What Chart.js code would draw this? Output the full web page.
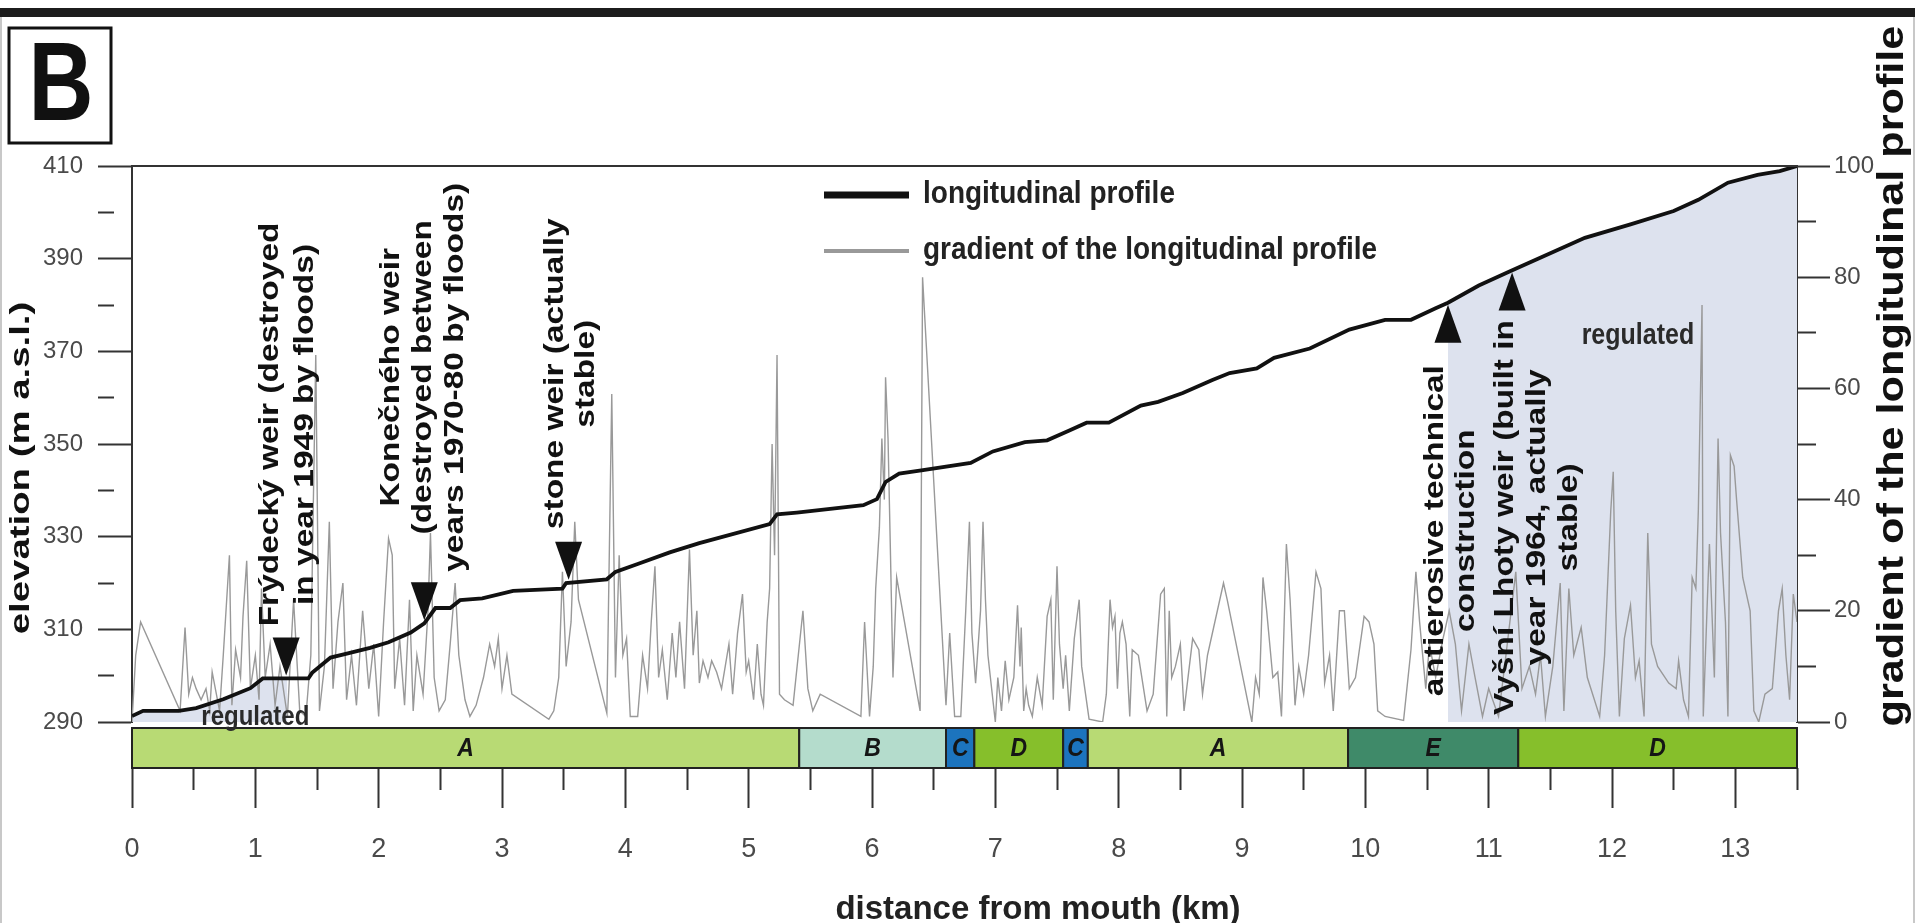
<!DOCTYPE html>
<html>
<head>
<meta charset="utf-8">
<script src="https://cdn.jsdelivr.net/npm/chart.js@4/dist/chart.umd.min.js"></script>
<style>
  html, body { margin: 0; padding: 0; background: #fff; }
  canvas { display: block; }
</style>
</head>
<body>
<canvas id="profileChart" width="1915" height="923"></canvas>
<script>
// longitudinal profile (km from mouth, elevation m a.s.l.)
const profileKm = [0, 0.09, 0.38, 0.52, 0.74, 0.96, 1.06, 1.26, 1.43, 1.46,
  1.61, 1.75, 1.93, 2.08, 2.26, 2.37, 2.46, 2.58, 2.66, 2.84,
  3.09, 3.49, 3.52, 3.85, 3.92, 4.10, 4.36, 4.60, 5.17, 5.23,
  5.39, 5.93, 6.04, 6.11, 6.22, 6.40, 6.80, 6.98, 7.24, 7.42,
  7.60, 7.74, 7.92, 8.18, 8.32, 8.52, 8.76, 8.90, 9.12, 9.26,
  9.55, 9.87, 10.16, 10.37, 10.57, 10.67, 10.92, 11.16, 11.40, 11.78,
  12.15, 12.50, 12.70, 12.94, 13.18, 13.36, 13.50];
const profileElev = [291.3, 292.4, 292.4, 293.0, 294.9, 297.3, 299.4, 299.4, 299.4, 300.6,
  303.9, 304.8, 306.0, 307.2, 309.3, 311.3, 314.6, 314.6, 316.3, 316.7,
  318.3, 318.8, 320.0, 320.8, 322.4, 324.1, 326.6, 328.6, 332.7, 334.8,
  335.2, 336.8, 338.1, 341.8, 343.6, 344.3, 345.9, 348.4, 350.4, 350.8,
  352.9, 354.6, 354.6, 358.3, 359.1, 361.0, 363.8, 365.3, 366.3, 368.6,
  370.6, 374.7, 376.8, 376.8, 379.3, 380.5, 384.2, 387.1, 390.0, 394.5,
  397.4, 400.3, 402.7, 406.4, 408.1, 408.9, 410.0];

// gradient of the profile (km, value on the right axis)
const gradientKm = [
  0.00,0.03,0.07,0.39,0.43,0.46,0.49,0.52,0.56,0.60,0.63,0.65,0.71,0.74,0.79,0.81,0.84,0.88,0.90,0.93,0.96,
  1.00,1.03,1.05,1.08,1.12,1.16,1.20,1.26,1.31,1.36,1.41,1.45,1.49,1.52,1.56,1.60,1.63,1.67,1.71,1.74,1.78,1.82,1.87,1.92,1.96,
  2.00,2.04,2.08,2.11,2.13,2.17,2.21,2.25,2.28,2.31,2.36,2.40,2.42,2.45,2.49,2.54,2.58,2.62,2.65,2.70,2.74,2.79,2.85,2.90,2.94,2.97,
  3.00,3.04,3.08,3.38,3.42,3.46,3.49,3.52,3.56,3.59,3.62,3.85,3.89,3.92,3.95,3.98,
  4.01,4.04,4.10,4.14,4.18,4.21,4.24,4.27,4.30,4.34,4.38,4.41,4.44,4.48,4.52,4.55,4.58,4.60,4.63,4.67,4.70,4.74,4.78,4.81,4.84,4.87,4.91,4.95,4.98,
  5.00,5.04,5.07,5.10,5.12,5.15,5.17,5.19,5.21,5.23,5.25,5.29,5.36,5.44,5.48,5.52,5.58,5.91,5.94,5.98,
  6.01,6.03,6.06,6.08,6.10,6.11,6.13,6.15,6.17,6.20,6.39,6.41,6.60,6.63,6.67,6.72,6.76,6.79,6.81,6.84,6.88,6.90,6.92,6.94,6.97,
  7.00,7.02,7.05,7.08,7.11,7.15,7.18,7.20,7.21,7.23,7.25,7.27,7.30,7.34,7.38,7.42,7.45,7.47,7.50,7.52,7.55,7.57,7.60,7.64,7.68,7.70,7.76,7.87,7.90,7.93,7.95,7.97,7.99,
  8.01,8.03,8.06,8.09,8.11,8.16,8.23,8.28,8.34,8.37,8.39,8.41,8.43,8.46,8.50,8.53,8.60,8.65,8.68,8.72,8.77,8.85,8.88,
  9.08,9.11,9.14,9.17,9.20,9.25,9.29,9.32,9.36,9.39,9.43,9.46,9.50,9.54,9.60,9.64,9.67,9.71,9.74,9.79,9.83,9.87,9.92,9.99,
  10.03,10.07,10.10,10.16,10.31,10.37,10.41,10.44,10.49,10.52,10.57,10.63,10.68,10.73,10.78,10.84,10.89,10.95,
  11.00,11.08,11.14,11.22,11.27,11.33,11.38,11.42,11.46,11.52,11.58,11.61,11.65,11.69,11.75,11.80,11.90,11.94,11.99,
  12.01,12.03,12.06,12.10,12.15,12.19,12.22,12.26,12.29,12.32,12.37,12.46,12.52,12.54,12.58,12.62,12.65,12.68,12.70,12.73,12.74,12.77,12.79,12.83,12.86,12.88,12.92,12.94,12.96,12.99,
  13.01,13.06,13.12,13.15,13.19,13.24,13.30,13.35,13.38,13.41,13.44,13.47,13.50
];
const gradientVal = [
  0,12,18,2,17,5,8,6,4,6,2,9,2,12,30,3,13,8,19,29,6,
  12,4,24,8,14,3,10,1,22,2,1,12,66,2,10,36,6,18,25,4,12,3,20,6,14,
  1,18,33,30,6,15,3,22,2,12,5,20,34,8,2,4,14,25,12,4,1,3,8,14,10,15,
  6,12,5,0.5,2,8,27,10,18,36,22,1.6,59,8,30,12,
  15,1,1,12,6,18,28,8,13,4,16,8,18,6,31,12,20,7,11,8,11,9,6,10,14,5,16,23,9,
  11,4,14,5,3,18,24,50,30,66,5,4,3,20,6,2,5,1,18,1,
  10,24,35,51,40,62,51,30,8,26,2,80,3,16,1,1,20,36,16,7,20,36,22,12,6,
  0,8,2,11,4,8,21,10,17,2,6,3,1,8,3,19,22,4,28,14,6,12,2,15,22,10,0.5,0,5,22,17,19,6,
  16,18,14,1,13,12,2,5,23,24,1,20,8,10,14,2,15,13,5,12,17,25,22,
  0,8,5,26,20,8,9,1,32,22,3,10,5,12,27,24,7,12,2,20,20,6,8,19,
  18,14,2,1,0.3,13,27,18,6,14,8,15,20,14,2,14,8,1,
  6,1,12,27,6,10,5,12,1,10,25,2,24,12,17,8,1,12,38,
  45,20,1,15,21,8,11,1,34,14,10,7,6,11,4,1,26,24,38,75,1,20,32,8,51,34,18,1,48,46,
  40,26,20,2,0,5,6,20,24,12,4,23,18
];

// river reach types along the channel
const zoneFrom = [0, 5.41, 6.60, 6.83, 7.55, 7.75, 9.86, 11.24];
const zoneTo = [5.41, 6.60, 6.83, 7.55, 7.75, 9.86, 11.24, 13.5];
const zoneName = ['A', 'B', 'C', 'D', 'C', 'A', 'E', 'D'];

// regulated stretches (km)
const regulatedFrom = [0, 10.67];
const regulatedTo = [1.26, 13.5];

// weirs and structures
const weirKm = [1.25, 2.37, 3.54, 10.67, 11.19];
const weirUp = [false, false, false, true, true];
const weirText = [
  ['Frýdecký weir (destroyed', 'in year 1949 by floods)'],
  ['Konečného weir', '(destroyed between', 'years 1970-80 by floods)'],
  ['stone weir (actually', 'stable)'],
  ['antierosive technical', 'construction'],
  ['Vyšní Lhoty weir (built in', 'year 1964, actually', 'stable)']
];

// ---- styles ----
const SANS = "'Liberation Sans', Arial, sans-serif";
const NARROW = "'Liberation Sans Narrow', 'Arial Narrow', 'Liberation Sans', sans-serif";
const zoneColor = { A: '#b8da74', B: '#b4dccc', C: '#1c74be', D: '#86bf2b', E: '#3f8a69' };
const fillColor = '#dde2ee';
const noteStyle = [
  { dx: 2, dy: -254, gap: 35 },
  { dx: -1, dy: -246, gap: 32 },
  { dx: 2, dy: -209, gap: 31 },
  { dx: 3, dy: 228, gap: 31 },
  { dx: 25, dy: 247, gap: 32 }
];

const toXY = (xs, ys) => xs.map((x, i) => ({ x: x, y: ys[i] }));
const profilePts = toXY(profileKm, profileElev);

function profileAt(km) {
  for (let i = 1; i < profileKm.length; i++) {
    if (km <= profileKm[i]) {
      const t = (km - profileKm[i - 1]) / (profileKm[i] - profileKm[i - 1]);
      return profileElev[i - 1] + t * (profileElev[i] - profileElev[i - 1]);
    }
  }
  return profileElev[profileElev.length - 1];
}

function text(ctx, str, x, y, font, o) {
  o = o || {};
  ctx.save();
  ctx.translate(x, y);
  if (o.rot) ctx.rotate(o.rot);
  ctx.scale(o.sx || 1, o.sy || 1);
  ctx.font = font;
  ctx.fillStyle = o.color || '#111';
  ctx.textAlign = o.align || 'center';
  ctx.textBaseline = 'middle';
  ctx.fillText(str, 0, 0);
  ctx.restore();
}

function rotLines(ctx, lines, cx, cy, font, gap, stretch) {
  const n = lines.length;
  lines.forEach((s, i) => {
    text(ctx, s, cx + (i - (n - 1) / 2) * gap, cy, font, { rot: -Math.PI / 2, sx: stretch });
  });
}

const decor = {
  id: 'decor',
  beforeDraw(chart) {
    const { ctx, width, height } = chart;
    ctx.save();
    ctx.fillStyle = '#fff';
    ctx.fillRect(0, 0, width, height);
    ctx.fillStyle = '#1c1c1c';
    ctx.fillRect(0, 8, width, 9);
    ctx.strokeStyle = '#c8c8c8';
    ctx.lineWidth = 2;
    ctx.beginPath();
    ctx.moveTo(1, 17); ctx.lineTo(1, height);
    ctx.moveTo(width - 1, 17); ctx.lineTo(width - 1, height);
    ctx.stroke();
    ctx.restore();
  },
  afterDraw(chart) {
    const { ctx, chartArea: a, scales } = chart;
    const x = scales.x, y = scales.y;
    ctx.save();

    // frame top
    ctx.strokeStyle = '#333';
    ctx.lineWidth = 2;
    ctx.beginPath();
    ctx.moveTo(a.left, a.top); ctx.lineTo(a.right, a.top);
    ctx.stroke();

    // reach type bar
    const barTop = a.bottom + 6, barH = 40;
    zoneFrom.forEach((z, i) => {
      const x0 = x.getPixelForValue(z), x1 = x.getPixelForValue(zoneTo[i]);
      ctx.fillStyle = zoneColor[zoneName[i]];
      ctx.fillRect(x0, barTop, x1 - x0, barH);
      ctx.strokeStyle = '#222';
      ctx.lineWidth = 2;
      ctx.strokeRect(x0, barTop, x1 - x0, barH);
      text(ctx, zoneName[i], (x0 + x1) / 2, barTop + barH / 2 + 1, 'italic bold 23px ' + SANS, { sy: 1.15, color: '#151515' });
    });

    // weirs: arrows and rotated notes
    weirKm.forEach((km, i) => {
      const px = x.getPixelForValue(km);
      const py = y.getPixelForValue(profileAt(km));
      const w = 27, h = 38;
      ctx.beginPath();
      if (weirUp[i]) {
        const tip = py + 2;
        ctx.moveTo(px, tip); ctx.lineTo(px - w / 2, tip + h); ctx.lineTo(px + w / 2, tip + h);
      } else {
        const tip = py - 3;
        ctx.moveTo(px, tip); ctx.lineTo(px - w / 2, tip - h); ctx.lineTo(px + w / 2, tip - h);
      }
      ctx.closePath();
      ctx.fillStyle = '#111';
      ctx.fill();
      const s = noteStyle[i];
      rotLines(ctx, weirText[i], px + s.dx, py + s.dy, 'bold 27px ' + SANS, s.gap, 1.24);
    });

    // regulated labels
    text(ctx, 'regulated', x.getPixelForValue(1.0), y.getPixelForValue(291.0), 'bold 24px ' + SANS, { sy: 1.15, color: '#2a2a2a' });
    text(ctx, 'regulated', x.getPixelForValue(12.21), y.getPixelForValue(373.2), 'bold 25px ' + SANS, { sy: 1.15, color: '#2a2a2a' });

    // legend
    const ds = chart.data.datasets;
    [0, 1].forEach((k, j) => {
      const ly = 195 + j * 56;
      ctx.strokeStyle = ds[k].borderColor;
      ctx.lineWidth = k === 0 ? 7 : 4;
      ctx.beginPath();
      ctx.moveTo(824, ly); ctx.lineTo(909, ly);
      ctx.stroke();
      text(ctx, ds[k].label, 923, ly, 'bold 28px ' + SANS, { align: 'left', sy: 1.1, color: '#222' });
    });

    // axis titles
    text(ctx, 'elevation (m a.s.l.)', 21, 468, 'bold 28px ' + SANS, { rot: -Math.PI / 2, sx: 1.37 });
    text(ctx, 'gradient of the longitudinal profile', 1893, 376, 'bold 36px ' + SANS, { rot: -Math.PI / 2, sx: 1.2 });
    text(ctx, 'distance from mouth (km)', 1038, 910, 'bold 33px ' + SANS, { color: '#222' });

    // panel letter
    ctx.strokeStyle = '#111';
    ctx.lineWidth = 3;
    ctx.strokeRect(9, 28, 102, 115);
    text(ctx, 'B', 61, 89, 'bold 90px ' + SANS, { sy: 1.24 });

    ctx.restore();
  }
};

const regulatedSets = regulatedFrom.map((from, i) => ({
  label: 'regulated',
  data: profilePts.filter(p => p.x >= from && p.x <= regulatedTo[i]),
  yAxisID: 'y',
  borderWidth: 0,
  pointRadius: 0,
  fill: 'start',
  backgroundColor: fillColor
}));

const ctx = document.getElementById('profileChart').getContext('2d');
new Chart(ctx, {
  type: 'line',
  data: {
    datasets: [
      {
        label: 'longitudinal profile',
        data: profilePts,
        yAxisID: 'y',
        borderColor: '#111',
        borderWidth: 3.8,
        pointRadius: 0,
        tension: 0
      },
      {
        label: 'gradient of the longitudinal profile',
        data: toXY(gradientKm, gradientVal),
        yAxisID: 'y2',
        borderColor: '#999',
        borderWidth: 1.4,
        pointRadius: 0,
        tension: 0
      },
      ...regulatedSets
    ]
  },
  options: {
    responsive: false,
    animation: false,
    layout: { padding: { top: 166, left: 0, right: 0, bottom: 0 } },
    plugins: {
      legend: { display: false },
      tooltip: { enabled: false }
    },
    scales: {
      x: {
        type: 'linear',
        min: 0,
        max: 13.5,
        afterFit: s => { s.height = 201; },
        border: { display: false },
        grid: {
          drawOnChartArea: false,
          tickLength: 86,
          tickWidth: 2,
          tickColor: '#333',
          tickBorderDash: c => Number.isInteger(c.tick.value) ? [0, 46, 40, 300] : [0, 46, 22, 300]
        },
        ticks: {
          stepSize: 0.5,
          autoSkip: false,
          maxRotation: 0,
          padding: 25,
          color: '#4a4a4a',
          font: { family: NARROW, size: 27 },
          callback: v => Number.isInteger(v) ? String(v) : ''
        }
      },
      y: {
        position: 'left',
        min: 290,
        max: 410,
        afterFit: s => { s.width = 132; },
        border: { display: true, color: '#333', width: 2 },
        grid: {
          drawOnChartArea: false,
          tickLength: 34,
          tickWidth: 2,
          tickColor: '#333',
          tickBorderDash: c => ((c.tick.value - 290) % 20 === 0) ? [] : [16, 300]
        },
        ticks: {
          stepSize: 10,
          padding: 15,
          color: '#4a4a4a',
          font: { family: SANS, size: 24 },
          callback: v => ((v - 290) % 20 === 0) ? String(v) : ''
        }
      },
      y2: {
        position: 'right',
        min: 0,
        max: 100,
        afterFit: s => { s.width = 118; },
        border: { display: true, color: '#333', width: 2 },
        grid: {
          drawOnChartArea: false,
          tickLength: 33,
          tickWidth: 2,
          tickColor: '#333',
          tickBorderDash: c => (c.tick.value % 20 === 0) ? [] : [18, 300]
        },
        ticks: {
          stepSize: 10,
          padding: 4,
          color: '#4a4a4a',
          font: { family: SANS, size: 24 },
          callback: v => (v % 20 === 0) ? String(v) : ''
        }
      }
    }
  },
  plugins: [decor]
});
</script>
</body>
</html>
